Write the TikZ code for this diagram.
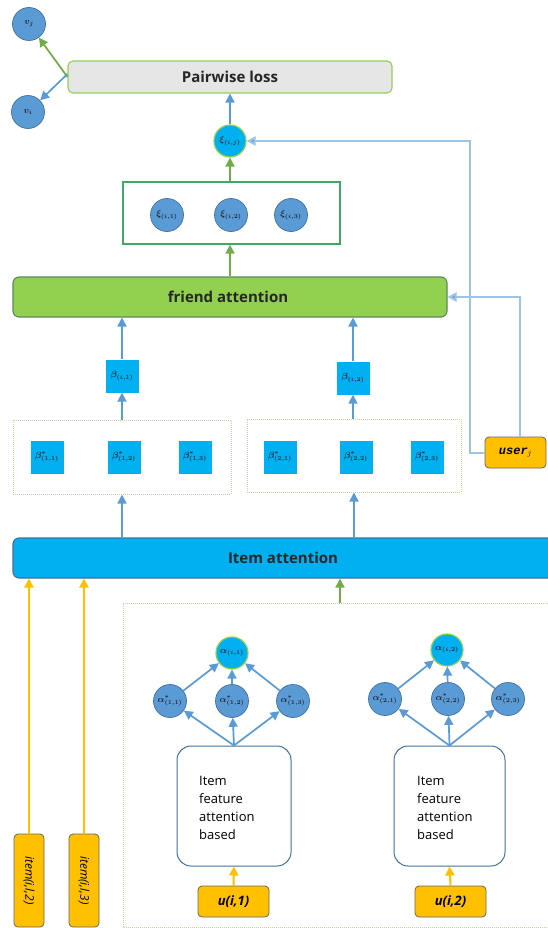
\documentclass[tikz,border=0pt]{standalone}
\usepackage{fontspec}
\setmainfont{Open Sans}
\newfontfamily\monofam{Liberation Mono}
\usetikzlibrary{arrows.meta,calc}
\definecolor{cblue}{HTML}{5B9BD5}
\definecolor{cbluedk}{HTML}{41719C}
\definecolor{ccyan}{HTML}{00B0F0}
\definecolor{cgreen}{HTML}{70AD47}
\definecolor{cboxgreen}{HTML}{3FA866}
\definecolor{clgreen}{HTML}{92D050}
\definecolor{cgray}{HTML}{E7E6E6}
\definecolor{cyel}{HTML}{FFC000}
\definecolor{clline}{HTML}{9DC3E6}
\definecolor{cdot}{HTML}{C5D89B}
\definecolor{cgborder}{HTML}{5A8A5C}
\definecolor{clab}{HTML}{1F2A3A}
\begin{document}
\begin{tikzpicture}[x=1pt,y=-1pt,
  bcirc/.style={circle,fill=cblue,draw=cbluedk,line width=0.7pt,minimum size=33pt,inner sep=0pt,font=\small\boldmath,text=clab},
  ccirc/.style={circle,fill=ccyan,draw=clgreen,line width=1.2pt,minimum size=32pt,inner sep=0pt,font=\small\boldmath,text=clab},
  bsq/.style={rectangle,fill=ccyan,minimum size=33pt,inner sep=0pt,font=\small\boldmath,text=clab},
  ybox/.style={rectangle,rounded corners=4pt,fill=cyel,draw=gray!80!black,line width=0.8pt,inner sep=0pt},
  dotbox/.style={rectangle,draw=cdot,densely dotted,line width=1pt,inner sep=0pt},
  featbox/.style={rectangle,rounded corners=14pt,draw=cbluedk,line width=1pt,fill=white,inner sep=0pt,minimum width=114pt,minimum height=120pt},
  tip/.style={-{Triangle[length=9pt,width=9pt]}},
  barr/.style={tip,draw=cblue,line width=1.7pt},
  garr/.style={tip,draw=cgreen,line width=1.7pt},
  yarr/.style={tip,draw=cyel,line width=2pt},
  lline/.style={draw=clline,line width=2pt,-{Triangle[length=9pt,width=9pt,fill=cblue]}},
  bigtext/.style={font=\bfseries\fontsize{15}{18}\selectfont,text=black!85},
]
\useasboundingbox (0,0) rectangle (548,928);
\fill[white] (0,0) rectangle (548,928);

% top
\node[bcirc] (vj) at (29,24) {$v_j$};
\node[bcirc] (vi) at (28,112) {$v_i$};
\node[rectangle,rounded corners=5pt,fill=cgray,draw=clgreen,line width=1.1pt,minimum width=324pt,minimum height=32pt] (pw) at (230,77) {};
\node[bigtext] (pwtext) at (230,77) {Pairwise loss};
\node[ccirc] (xit) at (230,141) {$\xi_{(i,j)}$};

\node[rectangle,draw=cboxgreen,line width=1.3pt,minimum width=217pt,minimum height=62pt] (xibox) at (231.5,213) {};
\node[bcirc] (xi1) at (167,215) {$\xi_{(i,1)}$};
\node[bcirc] (xi2) at (231,215) {$\xi_{(i,2)}$};
\node[bcirc] (xi3) at (291,215) {$\xi_{(i,3)}$};

\node[rectangle,rounded corners=6pt,fill=clgreen,draw=cgborder,line width=1.1pt,minimum width=434pt,minimum height=40pt] (fa) at (230,297) {};
\node[bigtext] (fatext) at (228,297) {friend attention};

\node[bsq] (b1) at (122,376) {$\beta_{(i,1)}$};
\node[bsq] (b2) at (353,378) {$\beta_{(i,2)}$};

\node[dotbox,minimum width=218pt,minimum height=74pt] (dl) at (122,457) {};
\node[dotbox,minimum width=214pt,minimum height=73pt] (dr) at (354,455.5) {};
\node[bsq] (bl1) at (47,457) {$\beta^{*}_{(1,1)}$};
\node[bsq] (bl2) at (124,457) {$\beta^{*}_{(1,2)}$};
\node[bsq] (bl3) at (195,457) {$\beta^{*}_{(1,3)}$};
\node[bsq] (br1) at (280,457) {$\beta^{*}_{(2,1)}$};
\node[bsq] (br2) at (356,457) {$\beta^{*}_{(2,2)}$};
\node[bsq] (br3) at (427,457) {$\beta^{*}_{(2,3)}$};

\node[ybox,minimum width=61pt,minimum height=31pt,font=\monofam\itshape\bfseries\fontsize{12}{14}\selectfont] (user) at (515.5,452.5) {user$_{j}$};

\node[rectangle,rounded corners=6pt,fill=ccyan,draw=cbluedk,line width=1.1pt,minimum width=550pt,minimum height=40pt] (ia) at (288,558) {};
\node[bigtext] (iatext) at (283,558) {Item attention};

% item inputs
\node[ybox,minimum width=30pt,minimum height=93pt] (it2) at (29,880.5) {};
\node[rotate=-90,font=\itshape\fontsize{12}{14}\selectfont] at (it2) {item(i,l,2)};
\node[ybox,minimum width=30pt,minimum height=93pt] (it3) at (84,880.5) {};
\node[rotate=-90,font=\itshape\fontsize{12}{14}\selectfont] at (it3) {item(i,l,3)};

% big dotted box
\draw[cdot,densely dotted,line width=1pt] (560,603) -- (123,603) -- (123,927) -- (560,927);
\coordinate (bigtop) at (340,603);

% left alpha group
\node[ccirc] (al) at (232,653) {$\alpha_{(i,1)}$};
\node[bcirc] (al1) at (170,701) {$\alpha^{*}_{(1,1)}$};
\node[bcirc] (al2) at (232,701) {$\alpha^{*}_{(1,2)}$};
\node[bcirc] (al3) at (293,701) {$\alpha^{*}_{(1,3)}$};
\node[featbox] (fl) at (234,806) {};
\node[anchor=north west,align=left,font=\fontsize{13}{18}\selectfont,inner sep=0pt] at (199,776) {Item\\feature\\attention\\based};
\node[ybox,minimum width=71pt,minimum height=31pt,font=\bfseries\itshape\fontsize{13}{15}\selectfont] (u1) at (233.5,901.5) {u(i,1)};

% right alpha group
\node[ccirc] (ar) at (447,650) {$\alpha_{(i,2)}$};
\node[bcirc] (ar1) at (385,699) {$\alpha^{*}_{(2,1)}$};
\node[bcirc] (ar2) at (448,699) {$\alpha^{*}_{(2,2)}$};
\node[bcirc] (ar3) at (508,699) {$\alpha^{*}_{(2,3)}$};
\node[featbox,minimum width=111pt] (fr) at (449.5,806) {};
\node[anchor=north west,align=left,font=\fontsize{13}{18}\selectfont,inner sep=0pt] at (417,776) {Item\\feature\\attention\\based};
\node[ybox,minimum width=71pt,minimum height=31pt,font=\bfseries\itshape\fontsize{13}{15}\selectfont] (u2) at (450.5,901.5) {u(i,2)};

% connectors top
\draw[garr] (pw.west) -- (vj);
\draw[barr] ([yshift=3pt]pw.west) -- (vi);
\draw[barr] (xit.north) -- (xit.north |- pw.south);
\draw[garr] (xit.south |- xibox.north) -- (xit.south);
\draw[garr] (xit.south |- fa.north) -- (xit.south |- xibox.south);
\draw[lline] (user.west) -- ++(-15,0) |- (xit.east);
\draw[lline] ([xshift=4.5pt]user.north) |- (fa.east);
\draw[barr] (b1.north) -- (b1.north |- fa.south);
\draw[barr] (b2.north) -- (b2.north |- fa.south);
\draw[barr] (b1.south |- dl.north) -- (b1.south);
\draw[barr] (b2.south |- dr.north) -- (b2.south);
\draw[barr] (dl.south |- ia.north) -- (dl.south);
\draw[barr] (dr.south |- ia.north) -- (dr.south);

% item connectors
\draw[yarr] (it2.north) -- (it2.north |- ia.south);
\draw[yarr] (it3.north) -- (it3.north |- ia.south);
\draw[garr] (bigtop) -- (bigtop |- ia.south);

% alpha connectors
\foreach \g/\f/\u in {al/fl/u1, ar/fr/u2}{
  \draw[barr] (\g1) -- (\g);
  \draw[barr] (\g2) -- (\g);
  \draw[barr] (\g3) -- (\g);
  \draw[barr] (\f.north) -- (\g1);
  \draw[barr] (\f.north) -- (\g2);
  \draw[barr] (\f.north) -- (\g3);
  \draw[yarr] (\u.north) -- (\f.south);
}
\end{tikzpicture}
\end{document}
